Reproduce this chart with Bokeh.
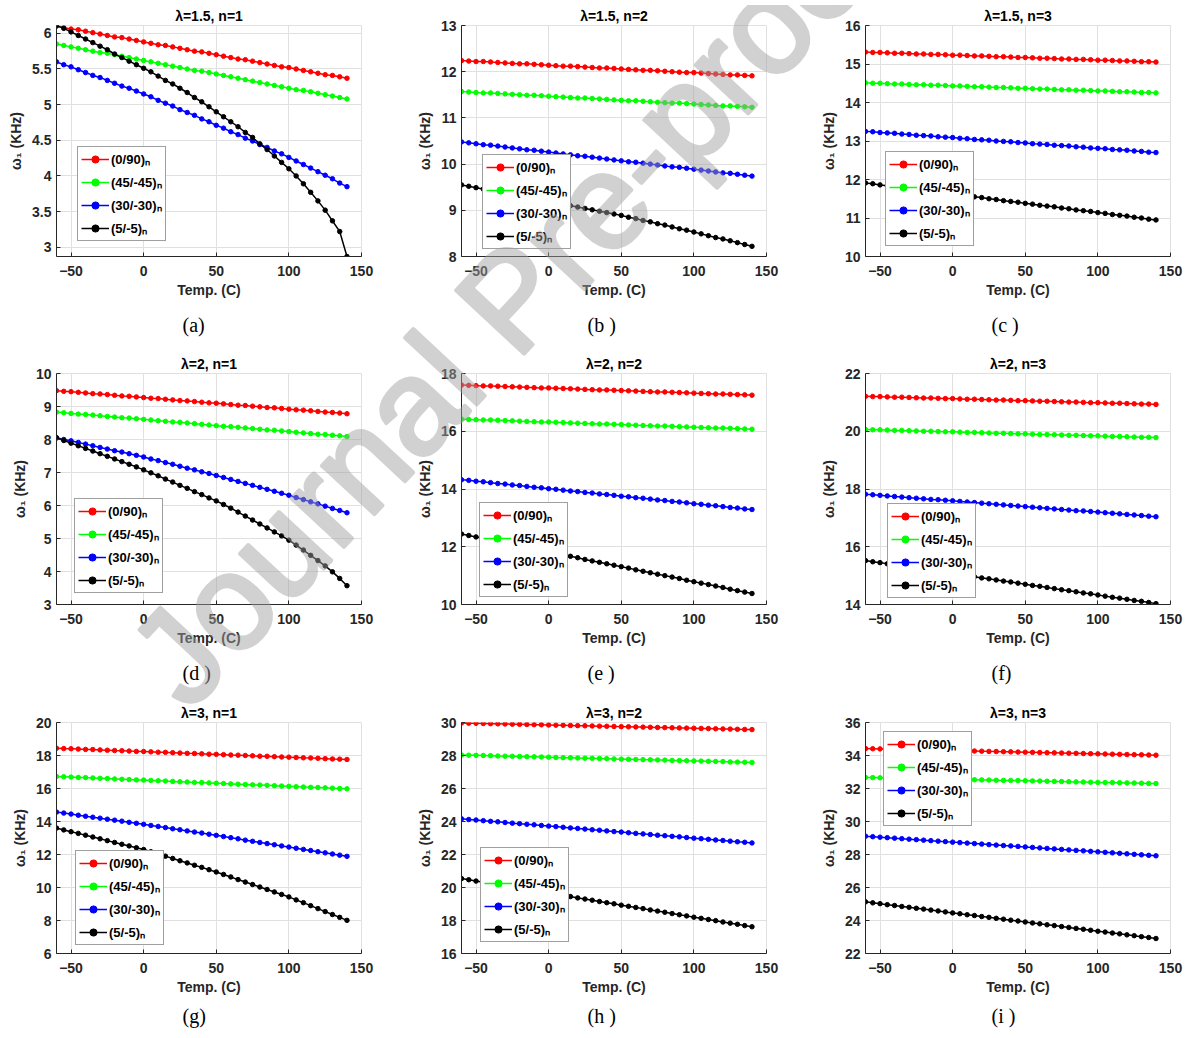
import math
from bokeh.plotting import figure
from bokeh.layouts import gridplot, column
from bokeh.models import (Range1d, FixedTicker, Legend, LegendItem, Title, Div,
                          ColumnDataSource, NumeralTickFormatter)
from bokeh.embed import file_html
from bokeh.resources import INLINE

# ---------------- data ----------------
TEMP = [-60, -55, -50, -45, -40, -35, -30, -25, -20, -15, -10, -5, 0, 5, 10, 15, 20,
        25, 30, 35, 40, 45, 50, 55, 60, 65, 70, 75, 80, 85, 90, 95, 100, 105, 110,
        115, 120, 125, 130, 135, 140]
X_TICKS = [-50, 0, 50, 100, 150]
LAYUPS = ["(0/90)\u2099", "(45/-45)\u2099", "(30/-30)\u2099", "(5/-5)\u2099"]
COLORS = ["#ff0000", "#00ff00", "#0000ff", "#000000"]

# (a) lambda=1.5, n=1
a_0_90 = [6.10, 6.08, 6.06, 6.05, 6.03, 6.01, 5.99, 5.97, 5.95, 5.94, 5.92, 5.90, 5.88, 5.86, 5.84, 5.83, 5.81, 5.79, 5.77, 5.75, 5.74, 5.72, 5.70, 5.68, 5.66, 5.64, 5.63, 5.61, 5.59, 5.57, 5.55, 5.53, 5.52, 5.50, 5.48, 5.46, 5.44, 5.42, 5.41, 5.39, 5.37]
a_45_45 = [5.85, 5.83, 5.81, 5.79, 5.77, 5.75, 5.73, 5.72, 5.70, 5.68, 5.66, 5.64, 5.62, 5.60, 5.58, 5.56, 5.54, 5.52, 5.50, 5.48, 5.47, 5.45, 5.43, 5.41, 5.39, 5.37, 5.35, 5.33, 5.31, 5.29, 5.27, 5.25, 5.23, 5.21, 5.20, 5.18, 5.16, 5.14, 5.12, 5.10, 5.08]
a_30_30 = [5.60, 5.56, 5.53, 5.49, 5.45, 5.41, 5.38, 5.34, 5.30, 5.26, 5.23, 5.19, 5.15, 5.11, 5.06, 5.02, 4.98, 4.93, 4.89, 4.85, 4.80, 4.76, 4.71, 4.67, 4.62, 4.58, 4.53, 4.49, 4.44, 4.40, 4.35, 4.31, 4.26, 4.21, 4.16, 4.11, 4.06, 4.01, 3.96, 3.90, 3.85]
a_5_5 = [6.11, 6.07, 6.02, 5.97, 5.92, 5.87, 5.82, 5.77, 5.71, 5.66, 5.61, 5.56, 5.51, 5.46, 5.40, 5.34, 5.29, 5.23, 5.17, 5.10, 5.04, 4.97, 4.90, 4.83, 4.76, 4.69, 4.61, 4.54, 4.45, 4.37, 4.28, 4.19, 4.10, 4.00, 3.89, 3.77, 3.65, 3.52, 3.37, 3.22, 2.87]
# (b) lambda=1.5, n=2
b_0_90 = [12.24, 12.23, 12.22, 12.22, 12.21, 12.20, 12.19, 12.18, 12.17, 12.17, 12.16, 12.15, 12.14, 12.13, 12.12, 12.12, 12.11, 12.10, 12.09, 12.08, 12.08, 12.07, 12.06, 12.05, 12.04, 12.03, 12.03, 12.02, 12.01, 12.00, 11.99, 11.98, 11.98, 11.97, 11.96, 11.95, 11.94, 11.93, 11.93, 11.92, 11.91]
b_45_45 = [11.57, 11.56, 11.55, 11.54, 11.54, 11.53, 11.52, 11.51, 11.50, 11.49, 11.49, 11.48, 11.47, 11.46, 11.45, 11.44, 11.43, 11.43, 11.42, 11.41, 11.40, 11.39, 11.38, 11.37, 11.37, 11.36, 11.35, 11.34, 11.33, 11.32, 11.32, 11.31, 11.30, 11.29, 11.28, 11.27, 11.26, 11.26, 11.25, 11.24, 11.23]
b_30_30 = [10.48, 10.46, 10.44, 10.42, 10.41, 10.39, 10.37, 10.35, 10.33, 10.31, 10.30, 10.28, 10.26, 10.24, 10.22, 10.20, 10.18, 10.17, 10.15, 10.13, 10.11, 10.09, 10.07, 10.05, 10.04, 10.02, 10.00, 9.98, 9.96, 9.94, 9.93, 9.91, 9.89, 9.87, 9.85, 9.83, 9.81, 9.80, 9.78, 9.76, 9.74]
b_5_5 = [9.55, 9.52, 9.49, 9.46, 9.43, 9.40, 9.37, 9.34, 9.31, 9.28, 9.25, 9.22, 9.19, 9.16, 9.13, 9.10, 9.07, 9.04, 9.01, 8.98, 8.95, 8.92, 8.89, 8.85, 8.82, 8.78, 8.75, 8.71, 8.68, 8.64, 8.60, 8.57, 8.53, 8.49, 8.45, 8.41, 8.38, 8.34, 8.30, 8.26, 8.22]
# (c) lambda=1.5, n=3
c_0_90 = [15.31, 15.30, 15.30, 15.29, 15.28, 15.28, 15.27, 15.26, 15.26, 15.25, 15.25, 15.24, 15.23, 15.23, 15.22, 15.21, 15.21, 15.20, 15.19, 15.19, 15.18, 15.17, 15.17, 15.16, 15.15, 15.15, 15.14, 15.13, 15.13, 15.12, 15.12, 15.11, 15.10, 15.10, 15.09, 15.08, 15.08, 15.07, 15.06, 15.06, 15.05]
c_45_45 = [14.51, 14.50, 14.50, 14.49, 14.48, 14.48, 14.47, 14.46, 14.46, 14.45, 14.45, 14.44, 14.43, 14.43, 14.42, 14.41, 14.41, 14.40, 14.39, 14.39, 14.38, 14.37, 14.37, 14.36, 14.35, 14.35, 14.34, 14.33, 14.33, 14.32, 14.32, 14.31, 14.30, 14.30, 14.29, 14.28, 14.28, 14.27, 14.26, 14.26, 14.25]
c_30_30 = [13.25, 13.24, 13.22, 13.21, 13.20, 13.18, 13.17, 13.15, 13.14, 13.13, 13.11, 13.10, 13.09, 13.07, 13.06, 13.04, 13.03, 13.02, 13.00, 12.99, 12.98, 12.96, 12.95, 12.93, 12.92, 12.91, 12.89, 12.88, 12.87, 12.85, 12.84, 12.82, 12.81, 12.80, 12.78, 12.77, 12.76, 12.74, 12.73, 12.71, 12.70]
c_5_5 = [11.91, 11.89, 11.86, 11.84, 11.81, 11.79, 11.77, 11.74, 11.72, 11.69, 11.67, 11.65, 11.62, 11.60, 11.57, 11.55, 11.53, 11.50, 11.48, 11.45, 11.43, 11.41, 11.38, 11.36, 11.33, 11.31, 11.29, 11.26, 11.24, 11.21, 11.19, 11.17, 11.14, 11.12, 11.09, 11.07, 11.05, 11.02, 11.00, 10.97, 10.95]
# (d) lambda=2, n=1
d_0_90 = [9.48, 9.46, 9.45, 9.43, 9.41, 9.39, 9.38, 9.36, 9.34, 9.32, 9.31, 9.29, 9.27, 9.25, 9.24, 9.22, 9.20, 9.18, 9.17, 9.15, 9.13, 9.11, 9.10, 9.08, 9.06, 9.04, 9.03, 9.01, 8.99, 8.97, 8.96, 8.94, 8.92, 8.90, 8.89, 8.87, 8.85, 8.83, 8.82, 8.80, 8.78]
d_45_45 = [8.83, 8.81, 8.79, 8.77, 8.76, 8.74, 8.72, 8.70, 8.68, 8.66, 8.65, 8.63, 8.61, 8.59, 8.57, 8.55, 8.53, 8.52, 8.50, 8.48, 8.46, 8.44, 8.42, 8.40, 8.39, 8.37, 8.35, 8.33, 8.31, 8.29, 8.28, 8.26, 8.24, 8.22, 8.20, 8.18, 8.16, 8.15, 8.13, 8.11, 8.09]
d_30_30 = [8.05, 8.00, 7.96, 7.91, 7.86, 7.81, 7.76, 7.71, 7.66, 7.62, 7.57, 7.52, 7.47, 7.41, 7.36, 7.30, 7.25, 7.19, 7.13, 7.08, 7.02, 6.97, 6.91, 6.85, 6.79, 6.73, 6.67, 6.61, 6.55, 6.49, 6.43, 6.37, 6.31, 6.24, 6.18, 6.11, 6.05, 5.98, 5.91, 5.85, 5.78]
d_5_5 = [8.05, 7.97, 7.89, 7.81, 7.73, 7.65, 7.57, 7.49, 7.41, 7.33, 7.25, 7.17, 7.08, 6.99, 6.90, 6.80, 6.71, 6.61, 6.52, 6.42, 6.33, 6.23, 6.14, 6.03, 5.92, 5.80, 5.68, 5.56, 5.44, 5.32, 5.20, 5.08, 4.95, 4.80, 4.65, 4.49, 4.33, 4.17, 3.99, 3.79, 3.57]
# (e) lambda=2, n=2
e_0_90 = [17.60, 17.59, 17.58, 17.57, 17.57, 17.56, 17.55, 17.54, 17.53, 17.52, 17.51, 17.50, 17.50, 17.49, 17.48, 17.47, 17.46, 17.45, 17.44, 17.43, 17.43, 17.42, 17.41, 17.40, 17.39, 17.38, 17.37, 17.36, 17.36, 17.35, 17.34, 17.33, 17.32, 17.31, 17.30, 17.29, 17.29, 17.28, 17.27, 17.26, 17.25]
e_45_45 = [16.42, 16.41, 16.40, 16.39, 16.39, 16.38, 16.37, 16.36, 16.35, 16.34, 16.33, 16.32, 16.32, 16.31, 16.30, 16.29, 16.28, 16.27, 16.26, 16.25, 16.25, 16.24, 16.23, 16.22, 16.21, 16.20, 16.19, 16.18, 16.18, 16.17, 16.16, 16.15, 16.14, 16.13, 16.12, 16.11, 16.11, 16.10, 16.09, 16.08, 16.07]
e_30_30 = [14.32, 14.30, 14.27, 14.25, 14.22, 14.19, 14.17, 14.14, 14.12, 14.09, 14.06, 14.04, 14.01, 13.99, 13.96, 13.93, 13.91, 13.88, 13.86, 13.83, 13.81, 13.78, 13.75, 13.73, 13.70, 13.68, 13.65, 13.62, 13.60, 13.57, 13.55, 13.52, 13.49, 13.47, 13.44, 13.42, 13.39, 13.36, 13.34, 13.31, 13.29]
e_5_5 = [12.44, 12.39, 12.34, 12.29, 12.23, 12.18, 12.13, 12.08, 12.03, 11.98, 11.93, 11.87, 11.82, 11.77, 11.72, 11.67, 11.62, 11.56, 11.51, 11.46, 11.41, 11.36, 11.31, 11.26, 11.20, 11.15, 11.10, 11.05, 11.00, 10.95, 10.90, 10.84, 10.79, 10.74, 10.69, 10.64, 10.59, 10.53, 10.48, 10.43, 10.38]
# (f) lambda=2, n=3
f_0_90 = [21.21, 21.20, 21.20, 21.19, 21.18, 21.18, 21.17, 21.16, 21.15, 21.15, 21.14, 21.13, 21.13, 21.12, 21.11, 21.11, 21.10, 21.09, 21.08, 21.08, 21.07, 21.06, 21.06, 21.05, 21.04, 21.04, 21.03, 21.02, 21.01, 21.01, 21.00, 20.99, 20.99, 20.98, 20.97, 20.97, 20.96, 20.95, 20.94, 20.94, 20.93]
f_45_45 = [20.06, 20.05, 20.05, 20.04, 20.03, 20.03, 20.02, 20.01, 20.00, 20.00, 19.99, 19.98, 19.98, 19.97, 19.96, 19.96, 19.95, 19.94, 19.93, 19.93, 19.92, 19.91, 19.91, 19.90, 19.89, 19.89, 19.88, 19.87, 19.86, 19.86, 19.85, 19.84, 19.84, 19.83, 19.82, 19.82, 19.81, 19.80, 19.79, 19.79, 19.78]
f_30_30 = [17.82, 17.80, 17.78, 17.76, 17.74, 17.72, 17.70, 17.68, 17.66, 17.64, 17.63, 17.61, 17.59, 17.57, 17.55, 17.53, 17.51, 17.49, 17.47, 17.45, 17.43, 17.41, 17.39, 17.37, 17.35, 17.33, 17.31, 17.29, 17.27, 17.25, 17.24, 17.22, 17.20, 17.18, 17.16, 17.14, 17.12, 17.10, 17.08, 17.06, 17.04]
f_5_5 = [15.52, 15.48, 15.45, 15.41, 15.37, 15.33, 15.30, 15.26, 15.22, 15.18, 15.15, 15.11, 15.07, 15.04, 15.00, 14.96, 14.92, 14.89, 14.85, 14.81, 14.78, 14.74, 14.70, 14.66, 14.63, 14.59, 14.55, 14.51, 14.48, 14.44, 14.40, 14.37, 14.33, 14.29, 14.25, 14.22, 14.18, 14.14, 14.11, 14.07, 14.03]
# (g) lambda=3, n=1
g_0_90 = [18.44, 18.42, 18.41, 18.39, 18.37, 18.36, 18.34, 18.32, 18.30, 18.29, 18.27, 18.25, 18.24, 18.22, 18.20, 18.19, 18.17, 18.15, 18.13, 18.12, 18.10, 18.08, 18.07, 18.05, 18.03, 18.02, 18.00, 17.98, 17.96, 17.95, 17.93, 17.91, 17.90, 17.88, 17.86, 17.85, 17.83, 17.81, 17.79, 17.78, 17.76]
g_45_45 = [16.73, 16.71, 16.69, 16.67, 16.66, 16.64, 16.62, 16.60, 16.58, 16.56, 16.54, 16.52, 16.51, 16.49, 16.47, 16.45, 16.43, 16.41, 16.39, 16.37, 16.36, 16.34, 16.32, 16.30, 16.28, 16.26, 16.24, 16.22, 16.21, 16.19, 16.17, 16.15, 16.13, 16.11, 16.09, 16.07, 16.06, 16.04, 16.02, 16.00, 15.98]
g_30_30 = [14.57, 14.51, 14.45, 14.38, 14.32, 14.26, 14.20, 14.14, 14.08, 14.02, 13.95, 13.89, 13.83, 13.76, 13.70, 13.63, 13.56, 13.50, 13.43, 13.36, 13.30, 13.23, 13.16, 13.09, 13.02, 12.95, 12.87, 12.80, 12.73, 12.66, 12.59, 12.52, 12.45, 12.38, 12.31, 12.24, 12.17, 12.10, 12.03, 11.96, 11.89]
g_5_5 = [13.60, 13.49, 13.38, 13.28, 13.17, 13.06, 12.95, 12.84, 12.73, 12.62, 12.52, 12.41, 12.30, 12.17, 12.03, 11.90, 11.76, 11.62, 11.49, 11.35, 11.22, 11.08, 10.94, 10.79, 10.64, 10.48, 10.33, 10.18, 10.03, 9.88, 9.73, 9.58, 9.43, 9.25, 9.08, 8.90, 8.72, 8.54, 8.36, 8.19, 8.01]
# (h) lambda=3, n=2
h_0_90 = [29.97, 29.96, 29.95, 29.94, 29.93, 29.92, 29.91, 29.90, 29.89, 29.88, 29.87, 29.86, 29.85, 29.84, 29.83, 29.82, 29.81, 29.80, 29.79, 29.78, 29.77, 29.76, 29.75, 29.74, 29.73, 29.72, 29.71, 29.70, 29.69, 29.68, 29.67, 29.66, 29.65, 29.64, 29.63, 29.62, 29.61, 29.60, 29.59, 29.58, 29.57]
h_45_45 = [28.03, 28.02, 28.01, 28.00, 27.99, 27.97, 27.96, 27.95, 27.94, 27.93, 27.92, 27.91, 27.90, 27.88, 27.87, 27.86, 27.85, 27.84, 27.83, 27.82, 27.81, 27.79, 27.78, 27.77, 27.76, 27.75, 27.74, 27.73, 27.72, 27.70, 27.69, 27.68, 27.67, 27.66, 27.65, 27.64, 27.63, 27.61, 27.60, 27.59, 27.58]
h_30_30 = [24.16, 24.12, 24.09, 24.05, 24.01, 23.98, 23.94, 23.90, 23.87, 23.83, 23.80, 23.76, 23.72, 23.69, 23.65, 23.61, 23.58, 23.54, 23.50, 23.47, 23.43, 23.39, 23.36, 23.32, 23.28, 23.25, 23.21, 23.17, 23.14, 23.10, 23.07, 23.03, 22.99, 22.96, 22.92, 22.88, 22.85, 22.81, 22.77, 22.74, 22.70]
h_5_5 = [20.54, 20.47, 20.39, 20.32, 20.25, 20.18, 20.10, 20.03, 19.96, 19.88, 19.81, 19.74, 19.66, 19.59, 19.52, 19.45, 19.37, 19.30, 19.23, 19.15, 19.08, 19.01, 18.93, 18.86, 18.79, 18.72, 18.64, 18.57, 18.50, 18.42, 18.35, 18.28, 18.20, 18.13, 18.06, 17.99, 17.91, 17.84, 17.77, 17.69, 17.62]
# (i) lambda=3, n=3
i_0_90 = [34.42, 34.41, 34.40, 34.39, 34.38, 34.37, 34.36, 34.35, 34.34, 34.33, 34.32, 34.31, 34.30, 34.29, 34.28, 34.27, 34.26, 34.25, 34.24, 34.23, 34.22, 34.21, 34.20, 34.19, 34.18, 34.17, 34.16, 34.15, 34.14, 34.13, 34.12, 34.11, 34.10, 34.09, 34.08, 34.07, 34.06, 34.05, 34.04, 34.03, 34.02]
i_45_45 = [32.67, 32.66, 32.65, 32.64, 32.63, 32.62, 32.61, 32.61, 32.60, 32.59, 32.58, 32.57, 32.56, 32.55, 32.54, 32.53, 32.52, 32.51, 32.50, 32.49, 32.49, 32.48, 32.47, 32.46, 32.45, 32.44, 32.43, 32.42, 32.41, 32.40, 32.39, 32.38, 32.37, 32.36, 32.36, 32.35, 32.34, 32.33, 32.32, 32.31, 32.30]
i_30_30 = [29.11, 29.08, 29.05, 29.02, 28.99, 28.96, 28.93, 28.90, 28.87, 28.84, 28.81, 28.78, 28.75, 28.72, 28.69, 28.66, 28.63, 28.60, 28.57, 28.54, 28.52, 28.49, 28.46, 28.43, 28.40, 28.37, 28.34, 28.31, 28.28, 28.25, 28.22, 28.19, 28.16, 28.13, 28.10, 28.07, 28.04, 28.01, 27.98, 27.95, 27.92]
i_5_5 = [25.13, 25.07, 25.02, 24.96, 24.91, 24.85, 24.80, 24.74, 24.69, 24.63, 24.58, 24.52, 24.46, 24.41, 24.35, 24.30, 24.24, 24.19, 24.13, 24.08, 24.02, 23.97, 23.91, 23.85, 23.80, 23.74, 23.69, 23.63, 23.58, 23.52, 23.47, 23.41, 23.35, 23.30, 23.24, 23.19, 23.13, 23.08, 23.02, 22.97, 22.91]

TITLES = ["\u03bb=1.5, n=1", "\u03bb=1.5, n=2", "\u03bb=1.5, n=3",
          "\u03bb=2, n=1", "\u03bb=2, n=2", "\u03bb=2, n=3",
          "\u03bb=3, n=1", "\u03bb=3, n=2", "\u03bb=3, n=3"]
LETTERS = ["(a)", "(b )", "(c )", "(d )", "(e )", "(f)", "(g)", "(h )", "(i )"]
Y_TICKS = [[3, 3.5, 4, 4.5, 5, 5.5, 6],
           [8, 9, 10, 11, 12, 13],
           [10, 11, 12, 13, 14, 15, 16],
           [3, 4, 5, 6, 7, 8, 9, 10],
           [10, 12, 14, 16, 18],
           [14, 16, 18, 20, 22],
           [6, 8, 10, 12, 14, 16, 18, 20],
           [16, 18, 20, 22, 24, 26, 28, 30],
           [22, 24, 26, 28, 30, 32, 34, 36]]
Y_LIMITS = [None, (8, 13), (10, 16), (3, 10), (10, 18), (14, 22), (6, 20), (16, 30), (22, 36)]
SERIES = [[a_0_90, a_45_45, a_30_30, a_5_5], [b_0_90, b_45_45, b_30_30, b_5_5],
          [c_0_90, c_45_45, c_30_30, c_5_5], [d_0_90, d_45_45, d_30_30, d_5_5],
          [e_0_90, e_45_45, e_30_30, e_5_5], [f_0_90, f_45_45, f_30_30, f_5_5],
          [g_0_90, g_45_45, g_30_30, g_5_5], [h_0_90, h_45_45, h_30_30, h_5_5],
          [i_0_90, i_45_45, i_30_30, i_5_5]]
for grp in SERIES:
    for s in grp:
        assert len(s) == len(TEMP), len(s)

# ---------------- layout (pixels) ----------------
COL_W = [405, 405, 376]
BORDER_L = [56, 56, 55]
FRAME_W = [305, 305, 305]
ROW_H = [352, 349, 336]
BORDER_T = [25, 21, 21]
FRAME_H = 231
LETTER_STANDOFF = [26, 27, 14]
LEGEND_POS = [(21, 15), (21, 7), (20, 10), (18, 11), (18, 7), (22, 6), (19, 8), (19, 11), (18, 127)]

AX = "#262626"
GRID = "#e0e0e0"
SANS = "Liberation Sans"

figs = []
for k in range(9):
    r, c = divmod(k, 3)
    grp = SERIES[k]
    if Y_LIMITS[k] is None:
        lo = min(min(s) for s in grp)
        hi = max(max(s) for s in grp)
    else:
        lo, hi = Y_LIMITS[k]
    p = figure(width=COL_W[c], height=ROW_H[r],
               x_range=Range1d(-60, 150), y_range=Range1d(lo, hi),
               output_backend="svg", toolbar_location=None,
               min_border_left=BORDER_L[c],
               min_border_right=COL_W[c] - BORDER_L[c] - FRAME_W[c],
               min_border_top=BORDER_T[r],
               min_border_bottom=ROW_H[r] - BORDER_T[r] - FRAME_H,
               title=TITLES[k])
    p.title.align = "center"
    p.title.text_font = SANS
    p.title.text_font_size = "14px"
    p.title.text_font_style = "bold"
    p.title.text_color = "#000000"
    p.title.standoff = 3
    p.outline_line_color = GRID
    p.background_fill_color = "white"
    p.border_fill_color = "white"

    p.xaxis.ticker = FixedTicker(ticks=X_TICKS)
    p.yaxis.ticker = FixedTicker(ticks=Y_TICKS[k])
    p.yaxis.formatter = NumeralTickFormatter(format="0.[0]")
    p.xaxis.axis_label = "Temp. (C)"
    p.yaxis.axis_label = "\u03c9\u2081 (KHz)"
    for ax in (p.xaxis[0], p.yaxis[0]):
        ax.axis_line_color = AX
        ax.axis_line_width = 1
        ax.major_tick_line_color = AX
        ax.major_tick_in = 4
        ax.major_tick_out = 0
        ax.minor_tick_line_color = None
        ax.major_label_text_font = SANS
        ax.major_label_text_font_size = "14px"
        ax.major_label_text_font_style = "bold"
        ax.major_label_text_color = AX
        ax.axis_label_text_font = SANS
        ax.axis_label_text_font_size = "14px"
        ax.axis_label_text_font_style = "bold"
        ax.axis_label_text_color = AX
    p.xaxis.major_label_standoff = 9
    p.xaxis.axis_label_standoff = 3
    p.yaxis.major_label_standoff = 5
    p.yaxis.axis_label_standoff = 5
    p.xgrid.grid_line_color = GRID
    p.ygrid.grid_line_color = GRID

    items = []
    for vals, lab, col in zip(grp, LAYUPS, COLORS):
        src = ColumnDataSource(dict(x=TEMP, y=vals))
        lr = p.line("x", "y", source=src, line_color=col, line_width=1.5)
        sr = p.scatter("x", "y", source=src, marker="circle", size=4.5,
                       fill_color=col, line_color=col)
        items.append(LegendItem(label=lab, renderers=[lr, sr]))
    leg = Legend(items=items, location=LEGEND_POS[k],
                 label_text_font=SANS, label_text_font_size="13px",
                 label_text_font_style="bold", label_text_color="#000000",
                 glyph_width=28, glyph_height=18, label_height=18,
                 label_standoff=2, spacing=5, padding=3, margin=0,
                 border_line_color="#404040", border_line_width=1,
                 background_fill_color="white", background_fill_alpha=1.0)
    p.add_layout(leg)

    p.add_layout(Title(text=LETTERS[k], align="left", offset=126, vertical_align="top",
                       standoff=LETTER_STANDOFF[r], text_font="Liberation Serif",
                       text_font_size="20px", text_font_style="normal",
                       text_color="#000000"), "below")
    figs.append(p)

grid = gridplot([figs[0:3], figs[3:6], figs[6:9]], toolbar_location=None)

# watermark overlay (page pixels)
WM_TEXT = "Journal Pre-proof"
WM_X, WM_Y, WM_ANGLE, WM_SIZE = 184, 708, 47, 135
wm_html = ('<svg xmlns="http://www.w3.org/2000/svg" width="1186" height="1037" '
           'style="display:block"><g opacity="0.48">'
           '<text x="%d" y="%d" transform="rotate(-%d %d %d)" font-family="Liberation Sans" '
           'font-size="%d" fill="#a0a0a0" stroke="#a0a0a0" stroke-width="4" '
           'stroke-linejoin="round">%s</text></g></svg>'
           % (WM_X, WM_Y, WM_ANGLE, WM_X, WM_Y, WM_SIZE, WM_TEXT))
wm = Div(text=wm_html, width=1186, height=1037,
         styles={"position": "absolute", "left": "0px", "top": "0px",
                 "z-index": "10", "pointer-events": "none"})

page = column(grid, wm)
open("out.html", "w").write(file_html(page, INLINE))
